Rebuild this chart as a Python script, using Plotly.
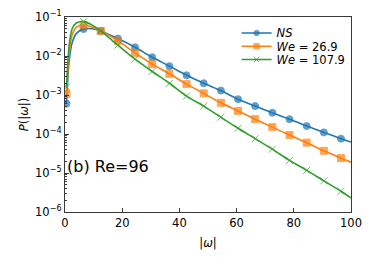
import plotly.graph_objects as go

omega = [0.5, 1.5, 2.5, 4, 6.5, 9.5, 12.5, 18.5, 24.5, 30.5, 36.5, 42.5, 48.5,
         54.5, 60.5, 66.5, 72.5, 78.5, 84.5, 90.5, 96.5, 100]
marker_on = [1, 0, 0, 0, 1, 0, 1, 1, 1, 1, 1, 1, 1, 1, 1, 1, 1, 1, 1, 1, 1, 0]

p_ns = [6e-4, 0.008, 0.022, 0.038, 0.049, 0.05, 0.044, 0.028, 0.0167, 0.0093,
        0.0055, 0.0032, 0.002, 0.0013, 7.8e-4, 5.2e-4, 3.5e-4, 2.4e-4, 1.6e-4,
        1.1e-4, 7.6e-5, 6.2e-5]
p_we26 = [1.07e-3, 0.012, 0.035, 0.055, 0.063, 0.055, 0.044, 0.0246, 0.012, 0.0062,
          0.0035, 0.0019, 0.0011, 6.3e-4, 3.9e-4, 2.4e-4, 1.5e-4, 9.4e-5, 6.0e-5,
          3.7e-5, 2.4e-5, 1.9e-5]
p_we108 = [1.6e-3, 0.02, 0.05, 0.07, 0.076, 0.062, 0.044, 0.019, 0.0083, 0.004,
           0.002, 9.4e-4, 5.2e-4, 2.7e-4, 1.4e-4, 7.6e-5, 4.1e-5, 2.1e-5, 1.17e-5,
           6.3e-6, 3.4e-6, 2.3e-6]

names = ["<i>NS</i>", "<i>We</i> = 26.9", "<i>We</i> = 107.9"]
colors = ["#1f77b4", "#ff7f0e", "#2ca02c"]
symbols = ["circle", "square", "x-thin"]
sizes = [7, 7, 7]
legend_ids = ["legend", "legend2", "legend3"]
legend_y = [0.918, 0.850, 0.782]

y_tickvals = [1e-6, 1e-5, 1e-4, 1e-3, 1e-2, 1e-1]
y_ticktext = ["10<sup>−6</sup>", "10<sup>−5</sup>", "10<sup>−4</sup>",
              "10<sup>−3</sup>", "10<sup>−2</sup>", "10<sup>−1</sup>"]
x_tickvals = [0, 20, 40, 60, 80, 100]

fig = go.Figure()
for ys, name, c, sym, sz, lg in zip([p_ns, p_we26, p_we108], names, colors,
                                     symbols, sizes, legend_ids):
    msize = [sz if m else 0 for m in marker_on]
    fig.add_trace(go.Scatter(
        x=omega, y=ys, name=name, mode="lines+markers", legend=lg,
        line=dict(color=c, width=1.6, shape="spline", smoothing=0.8),
        marker=dict(symbol=sym, size=msize, color=c,
                    line=dict(color=c, width=1)),
    ))

legend_common = dict(x=0.60, xanchor="left", yanchor="middle",
                     bgcolor="rgba(0,0,0,0)", font=dict(size=11.5),
                     itemwidth=30)

axcol = "#3a3a3a"
fig.update_layout(
    width=366, height=254,
    margin=dict(l=57, r=23, t=9, b=50, autoexpand=False),
    paper_bgcolor="white", plot_bgcolor="white",
    font=dict(family="DejaVu Sans", size=11.5, color="black"),
    showlegend=True,
    legend=dict(y=legend_y[0], **legend_common),
    legend2=dict(y=legend_y[1], **legend_common),
    legend3=dict(y=legend_y[2], **legend_common),
    xaxis=dict(range=[0, 100], tickvals=x_tickvals, ticks="inside", ticklen=4,
               showline=True, mirror=True, linecolor=axcol, linewidth=1.3,
               showgrid=False, zeroline=False, tickcolor=axcol, automargin=False,
               title=dict(text="|<i>ω</i>|", standoff=9, font=dict(size=11.5))),
    yaxis=dict(type="log", range=[-6, -1], tickvals=y_tickvals, ticktext=y_ticktext,
               ticks="inside", ticklen=4, tickcolor=axcol, automargin=False,
               minor=dict(ticks="inside", ticklen=2, dtick="D1", tickcolor=axcol,
                          showgrid=False),
               showline=True, mirror=True, linecolor=axcol, linewidth=1.3,
               showgrid=False, zeroline=False,
               title=dict(text="<i>P</i>(|<i>ω</i>|)", standoff=4, font=dict(size=11.5))),
    annotations=[dict(text="(b) Re=96", x=0.0, y=0.232, xref="paper", yref="paper",
                      xanchor="left", yanchor="middle", showarrow=False,
                      font=dict(size=16, color="black"))],
)

fig.write_html("out.html")
